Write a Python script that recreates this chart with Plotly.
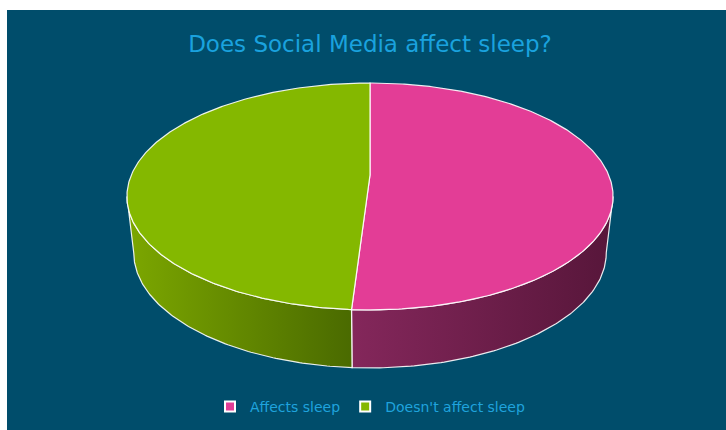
import numpy as np
import plotly.graph_objects as go

# ---- data ----
labels = ["Affects sleep", "Doesn't affect sleep"]
values = [51, 49]
top_colors = ["#E33D96", "#84B800"]
side_light = ["#84275B", "#7CA700"]
side_dark = ["#57163A", "#4A6A00"]

title_text = "Does Social Media affect sleep?"

# ---- geometry of the 3D pie (pixel-like layout units) ----
CX, CY = 370.0, 175.0       # projected centre of top face
A, B, K = 238.7, 109.4, 0.189  # perspective ellipse parameters
H = 56.0                    # thickness
SX, SY = 0.972, 1.015       # bottom face scaling

BG = "#004D6B"
EDGE = "rgba(255,255,255,0.9)"
FONT = "DejaVu Sans"


def top_pt(phi):
    u, v = np.sin(phi), np.cos(phi)
    d = 1 + K * v
    return CX + A * u / d, CY - B * v / d


def bot_pt(phi):
    x, y = top_pt(phi)
    return CX + SX * (x - CX), CY + SY * (y - CY) + H


total = float(sum(values))
bounds = np.concatenate([[0], np.cumsum(values) / total]) * 2 * np.pi
phi_r = np.arccos(-K)
phi_l = 2 * np.pi - phi_r

fig = go.Figure()

# side walls
for i in range(len(values)):
    s = max(bounds[i], phi_r)
    e = min(bounds[i + 1], phi_l)
    if e <= s:
        continue
    ph = np.linspace(s, e, 120)
    tx, ty = top_pt(ph)
    bx, by = bot_pt(ph[::-1])
    xs = np.concatenate([tx, bx, tx[:1]])
    ys = np.concatenate([ty, by, ty[:1]])
    fig.add_trace(go.Scatter(
        x=xs, y=ys, mode="lines", fill="toself",
        fillgradient=dict(type="horizontal",
                          colorscale=[[0, side_light[i]], [1, side_dark[i]]]),
        line=dict(color=EDGE, width=1.2),
        showlegend=False, hoverinfo="skip"))

# top faces
for i in range(len(values)):
    ph = np.linspace(bounds[i], bounds[i + 1], 300)
    tx, ty = top_pt(ph)
    xs = np.concatenate([[CX], tx, [CX]])
    ys = np.concatenate([[CY], ty, [CY]])
    fig.add_trace(go.Scatter(
        x=xs, y=ys, mode="lines", fill="toself", fillcolor=top_colors[i],
        line=dict(color=EDGE, width=1.2),
        showlegend=False, hoverinfo="skip"))

# legend entries
for lab, col in zip(labels, top_colors):
    fig.add_trace(go.Scatter(
        x=[None], y=[None], mode="markers", name=lab,
        marker=dict(symbol="square", size=10, color=col,
                    line=dict(color="white", width=2))))

fig.update_layout(
    width=726, height=430,
    margin=dict(l=7, r=0, t=10, b=0),
    paper_bgcolor="white",
    plot_bgcolor=BG,
    title=dict(text=title_text, x=370 / 726, xanchor="center",
               y=1 - 44 / 430, yanchor="middle",
               font=dict(family=FONT, size=23, color="#1AA2DE")),
    legend=dict(orientation="h", x=(370 - 7) / 719, xanchor="center",
                y=(430 - 407) / 420, yanchor="middle",
                font=dict(family=FONT, size=14, color="#1FA3DD"),
                bgcolor="rgba(0,0,0,0)"),
    xaxis=dict(range=[7, 726], visible=False, fixedrange=True),
    yaxis=dict(range=[430, 10], visible=False, fixedrange=True),
    hovermode=False,
)

fig.write_html("out.html")
